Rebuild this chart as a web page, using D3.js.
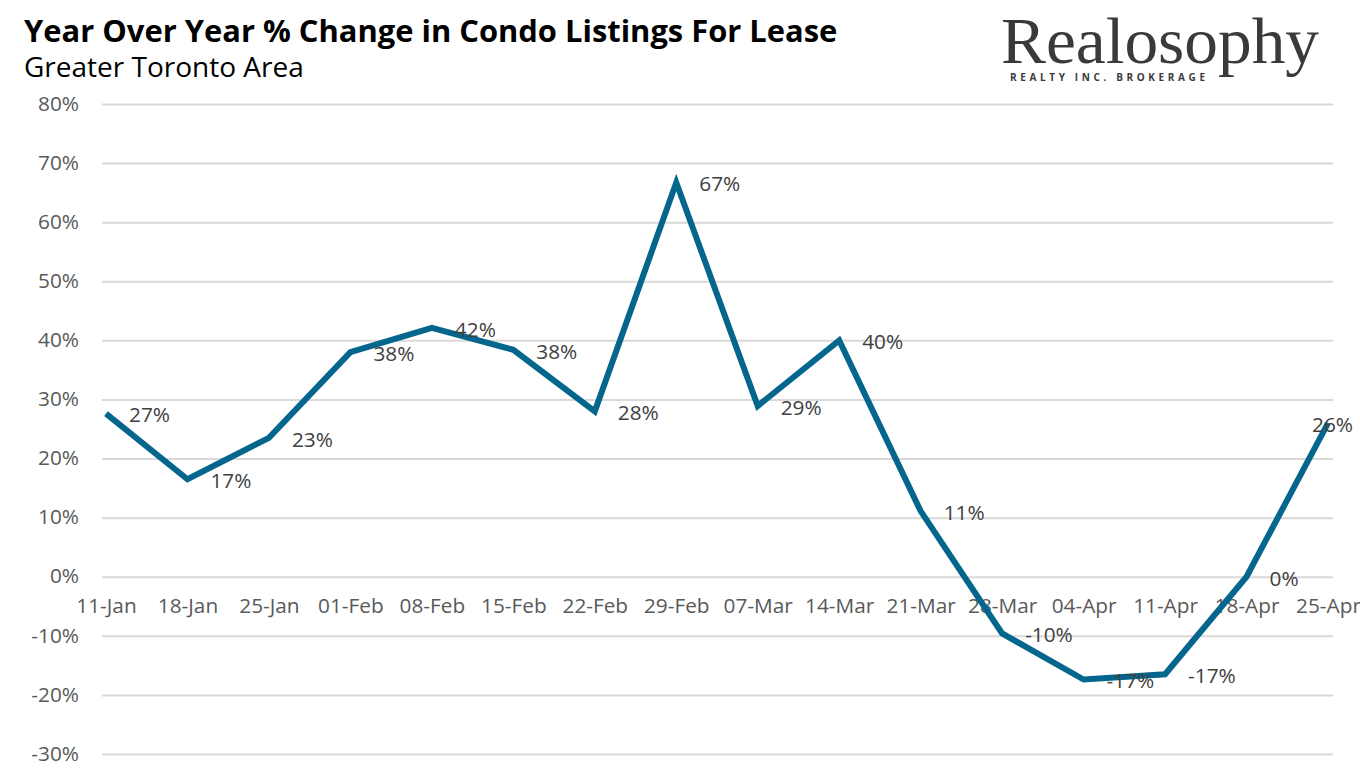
<!DOCTYPE html>
<html><head><meta charset="utf-8">
<script src="https://cdn.jsdelivr.net/npm/d3@7"></script>
<style>
html,body{margin:0;padding:0;background:#fff;overflow:hidden}
svg{display:block}
text{font-family:"Open Sans","Noto Sans",sans-serif}
</style></head><body>
<svg id="c" width="1360" height="770"></svg>
<script>
const titleText = "Year Over Year % Change in Condo Listings For Lease";
const subtitleText = "Greater Toronto Area";
const logoName = "Realosophy";
const logoTag = "REALTY INC. BROKERAGE";
const categories = ["11-Jan","18-Jan","25-Jan","01-Feb","08-Feb","15-Feb","22-Feb","29-Feb","07-Mar","14-Mar","21-Mar","28-Mar","04-Apr","11-Apr","18-Apr","25-Apr"];
const values = [27.6,16.5,23.5,38,42.1,38.4,28,66.7,28.9,40,11.1,-9.6,-17.4,-16.5,0,26];
const labels = ["27%","17%","23%","38%","42%","38%","28%","67%","29%","40%","11%","-10%","-17%","-17%","0%","26%"];
const yTicks = [80,70,60,50,40,30,20,10,0,-10,-20,-30];

const svg = d3.select("#c");
const x = d3.scalePoint().domain(categories).range([106,1328]);
const y = d3.scaleLinear().domain([-30,80]).range([754,104]);
const gridL = 102, gridR = 1333;

// y axis + gridlines
const gy = svg.append("g").attr("transform",`translate(${gridL},0)`)
  .call(d3.axisLeft(y).tickValues(yTicks).tickSize(0).tickPadding(23).tickFormat(d=>d+"%"));
gy.select(".domain").remove();
gy.selectAll("text").attr("font-size",20.8).attr("fill","#595959").attr("dy","0.3em").style("font-family",'"Open Sans"');
gy.selectAll(".tick").append("line").attr("x1",0).attr("x2",gridR-gridL).attr("stroke","#d9d9d9").attr("stroke-width",2);

// x axis at zero
const gx = svg.append("g").attr("transform",`translate(0,${y(0)})`)
  .call(d3.axisBottom(x).tickSize(0).tickPadding(22));
gx.select(".domain").remove();
gx.selectAll("text").attr("font-size",20.8).attr("fill","#595959").style("font-family",'"Open Sans"');

// line
svg.append("path").datum(values)
  .attr("fill","none").attr("stroke","#05668d").attr("stroke-width",6)
  .attr("stroke-linejoin","miter").attr("stroke-linecap","butt")
  .attr("d",d3.line().x((d,i)=>x(categories[i])).y(d=>y(d)));

// data labels
svg.append("g").selectAll("text").data(values).join("text")
  .attr("x",(d,i)=> i===values.length-1 ? x(categories[i])-16 : x(categories[i])+23)
  .attr("y",(d,i)=> y(d)+1.5)
  .attr("dy","0.35em")
  .attr("font-size",20.8).attr("fill","#404040")
  .text((d,i)=>labels[i]);

// titles
svg.append("text").attr("x",24).attr("y",41.5).attr("font-size",30.9).attr("font-weight",700).attr("fill","#000").text(titleText);
svg.append("text").attr("x",24).attr("y",77).attr("font-size",28).attr("fill","#000").text(subtitleText);

// logo
svg.append("text").attr("x",1001).attr("y",63).attr("font-size",66).attr("fill","#3a3a3a")
  .style("font-family",'"Liberation Serif"').attr("textLength",318).attr("lengthAdjust","spacingAndGlyphs").text(logoName);
svg.append("text").attr("x",1010).attr("y",81).attr("font-size",10).attr("font-weight",700).attr("fill","#3a3a3a")
  .attr("textLength",195).attr("lengthAdjust","spacing").text(logoTag);
</script>
</body></html>
